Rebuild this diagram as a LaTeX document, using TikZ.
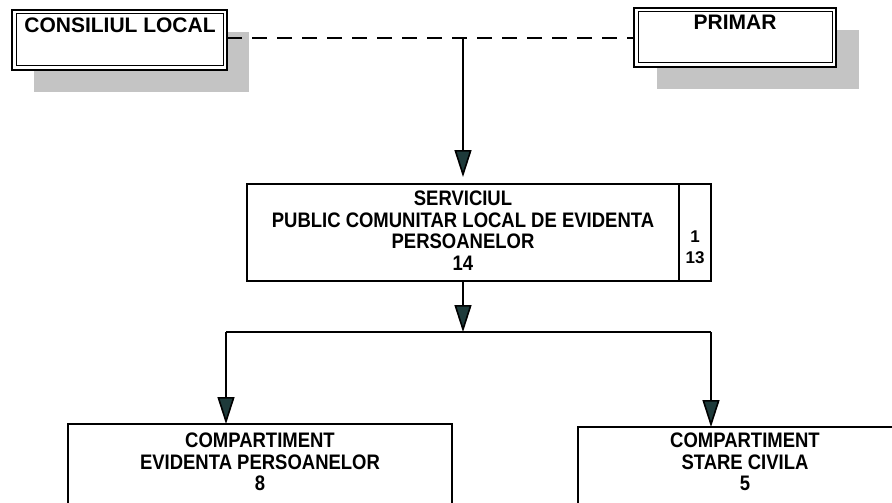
\documentclass[tikz,border=0pt]{standalone}
\usepackage{fontspec}
\setmainfont{Liberation Sans}
\newfontfamily\narrowfont[FakeStretch=0.88]{Liberation Sans}
\usetikzlibrary{arrows.meta}
\definecolor{shadowc}{HTML}{C4C4C4}
\definecolor{tipc}{HTML}{1E3A3A}
\tikzset{
  topbox/.style={draw, line width=2.6pt, fill=white, inner sep=0pt, outer sep=0pt, anchor=north west},
  shadowbox/.style={fill=shadowc, draw=none, inner sep=0pt, outer sep=0pt, anchor=north west},
  plainbox/.style={draw, line width=1.6pt, fill=white, inner sep=0pt, outer sep=0pt, anchor=north west},
  toptext/.style={font=\fontsize{21}{24}\selectfont\bfseries, inner sep=0pt, anchor=base},
  midtext/.style={font=\narrowfont\fontsize{21}{21.5}\selectfont\bfseries, align=center, inner sep=0pt, anchor=north},
  numtext/.style={font=\fontsize{17}{21}\selectfont\bfseries, align=center, inner sep=0pt, anchor=north},
  conn/.style={line width=1.6pt},
  dashline/.style={line width=1.6pt, dash pattern=on 15pt off 10pt},
  arr/.style={line width=1.6pt, -{Triangle[width=17pt,length=27pt,fill=tipc]}}
}
\begin{document}
\begin{tikzpicture}[x=1pt,y=-1pt]
\useasboundingbox (0,0) rectangle (892,503);
\clip (0,0) rectangle (892,503);
% shadows
\node[shadowbox, minimum width=215, minimum height=60] (clsh) at (34,32) {};
\node[shadowbox, minimum width=202, minimum height=59] (prsh) at (657,30) {};
% top boxes
\node[topbox, minimum width=215, minimum height=60] (cl) at (12,10) {};
\draw[line width=1pt] ([shift={(4,4)}]cl.north west) rectangle ([shift={(-4,-4)}]cl.south east);
\node[topbox, minimum width=202, minimum height=59] (pr) at (634,8) {};
\draw[line width=1pt] ([shift={(4,4)}]pr.north west) rectangle ([shift={(-4,-4)}]pr.south east);
\node[toptext] (cltext) at (120,33) {CONSILIUL LOCAL};
\node[toptext] (prtext) at (735,30) {PRIMAR};
% junction
\coordinate (j) at (463,38);
\draw[dashline] (cl.east |- j) -- (pr.west |- j);
% serviciul
\node[plainbox, minimum width=464, minimum height=97] (sv) at (247,184) {};
\draw[conn] ([xshift=-32pt]sv.north east) -- ([xshift=-32pt]sv.south east);
\node[midtext] (svtext) at (463,191) {SERVICIUL\\PUBLIC COMUNITAR LOCAL DE EVIDENTA\\PERSOANELOR\\14};
\node[numtext] (svnum) at (695,231) {1\\13};
\draw[arr, shorten >=7pt] (j) -- (j |- sv.north);
% split
\coordinate (split) at (463,332);
\coordinate (L) at (226,332);
\coordinate (R) at (711,332);
\draw[arr] (j |- sv.south) -- (split);
\draw[conn] (L) -- (R);
% compartments
\node[plainbox, minimum width=384, minimum height=110] (ce) at (68,424) {};
\node[plainbox, minimum width=333, minimum height=110] (cs) at (578,427) {};
\node[midtext] (cetext) at (260,433) {COMPARTIMENT\\EVIDENTA PERSOANELOR\\8};
\node[midtext] (cstext) at (745,433) {COMPARTIMENT\\STARE CIVILA\\5};
\draw[arr] (L) -- (L |- ce.north);
\draw[arr] (R) -- (R |- cs.north);
\end{tikzpicture}
\end{document}
